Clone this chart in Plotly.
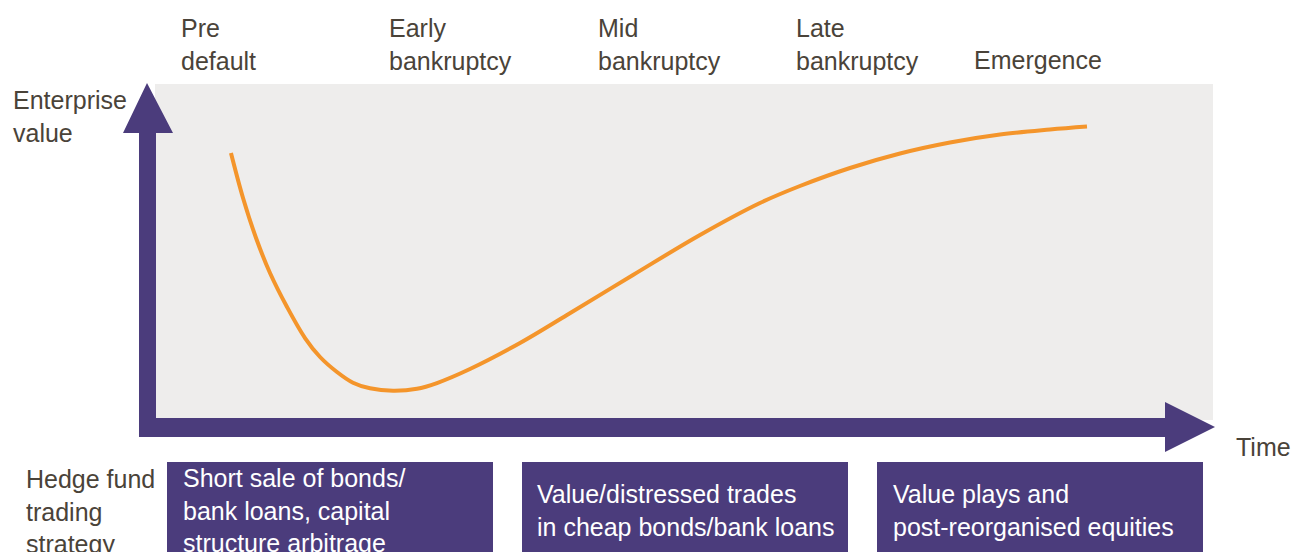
import plotly.graph_objects as go

# ---------------- data ----------------
stages = ["Pre<br>default", "Early<br>bankruptcy", "Mid<br>bankruptcy", "Late<br>bankruptcy", "Emergence"]
strategies = [
    "Short sale of bonds/<br>bank loans, capital<br>structure arbitrage",
    "Value/distressed trades<br>in cheap bonds/bank loans",
    "Value plays and<br>post-reorganised equities",
]
# enterprise value curve (time and value on a 0-100 scale)
time_pts = [7.18, 8.32, 9.55, 10.87, 12.48, 14.18, 15.60, 17.20, 18.71, 20.32, 22.50, 24.76,
            26.65, 29.77, 34.50, 38.94, 45.18, 51.51, 57.18, 60.96, 65.69, 70.42, 75.14,
            79.87, 84.59, 88.09]
value_pts = [79.46, 66.07, 54.17, 43.75, 33.63, 24.40, 18.75, 14.29, 11.10, 9.43, 8.72, 9.29,
             11.01, 15.18, 22.92, 31.25, 43.15, 55.06, 64.58, 69.64, 75.00, 79.32, 82.59,
             84.97, 86.46, 87.35]
y_title = "Enterprise<br>value"
x_title = "Time"
row_title = "Hedge fund<br>trading<br>strategy"

# ---------------- layout helpers ----------------
W, H = 1293, 552
PURPLE = "#4b3c7c"
ORANGE = "#f4952b"
GRAY = "#eeedec"
TEXT = "#4a4339"
FONT = "Liberation Sans, Arial, sans-serif"
FS = 25


def fx(px):
    return px / W


def fy(py):
    return 1 - py / H


fig = go.Figure()
fig.add_trace(go.Scatter(
    x=time_pts, y=value_pts, mode="lines",
    line=dict(color=ORANGE, width=4, shape="spline", smoothing=1.0),
    hoverinfo="skip", showlegend=False,
))

shapes = []
# combined L-shaped arrow (y axis + x axis)
pts = [(139, 437), (139, 133), (123, 133), (147, 83), (173, 133), (156, 133),
       (156, 418), (1165, 418), (1165, 402), (1215, 427), (1165, 452), (1165, 437)]
path = "M " + " L ".join(f"{fx(a):.5f},{fy(b):.5f}" for a, b in pts) + " Z"
shapes.append(dict(type="path", path=path, xref="paper", yref="paper",
                   fillcolor=PURPLE, line=dict(width=0)))

# strategy boxes
box_x = [(167, 493), (522, 848), (877, 1203)]
for x0, x1 in box_x:
    shapes.append(dict(type="rect", xref="paper", yref="paper",
                       x0=fx(x0), x1=fx(x1), y0=fy(600), y1=fy(462),
                       fillcolor=PURPLE, line=dict(width=0)))

annotations = []


def label(text, x_px, top_px, color=TEXT):
    annotations.append(dict(
        text=text, x=fx(x_px), y=fy(top_px), xref="paper", yref="paper",
        xanchor="left", yanchor="top", align="left", showarrow=False,
        font=dict(family=FONT, size=FS, color=color),
    ))


stage_x = [179, 387, 596, 794, 972]
stage_top = [12, 12, 12, 12, 44]
for s, x, t in zip(stages, stage_x, stage_top):
    label(s, x, t)

label(y_title, 11, 84)
label(x_title, 1234, 431)
label(row_title, 24, 463)

strat_x = [181, 535, 891]
strat_top = [462, 478, 478]
for s, x, t in zip(strategies, strat_x, strat_top):
    label(s, x, t, color="white")

fig.update_layout(
    width=W, height=H, autosize=False,
    margin=dict(l=0, r=0, t=0, b=0),
    paper_bgcolor="white", plot_bgcolor=GRAY,
    xaxis=dict(domain=[fx(155), fx(1213)], range=[0, 100], visible=False, fixedrange=True),
    yaxis=dict(domain=[fy(420), fy(84)], range=[0, 100], visible=False, fixedrange=True),
    shapes=shapes, annotations=annotations, showlegend=False,
)

fig.write_html("out.html", config={"displayModeBar": False},
               post_script="document.body.style.margin='0px';document.body.style.overflow='hidden';")
